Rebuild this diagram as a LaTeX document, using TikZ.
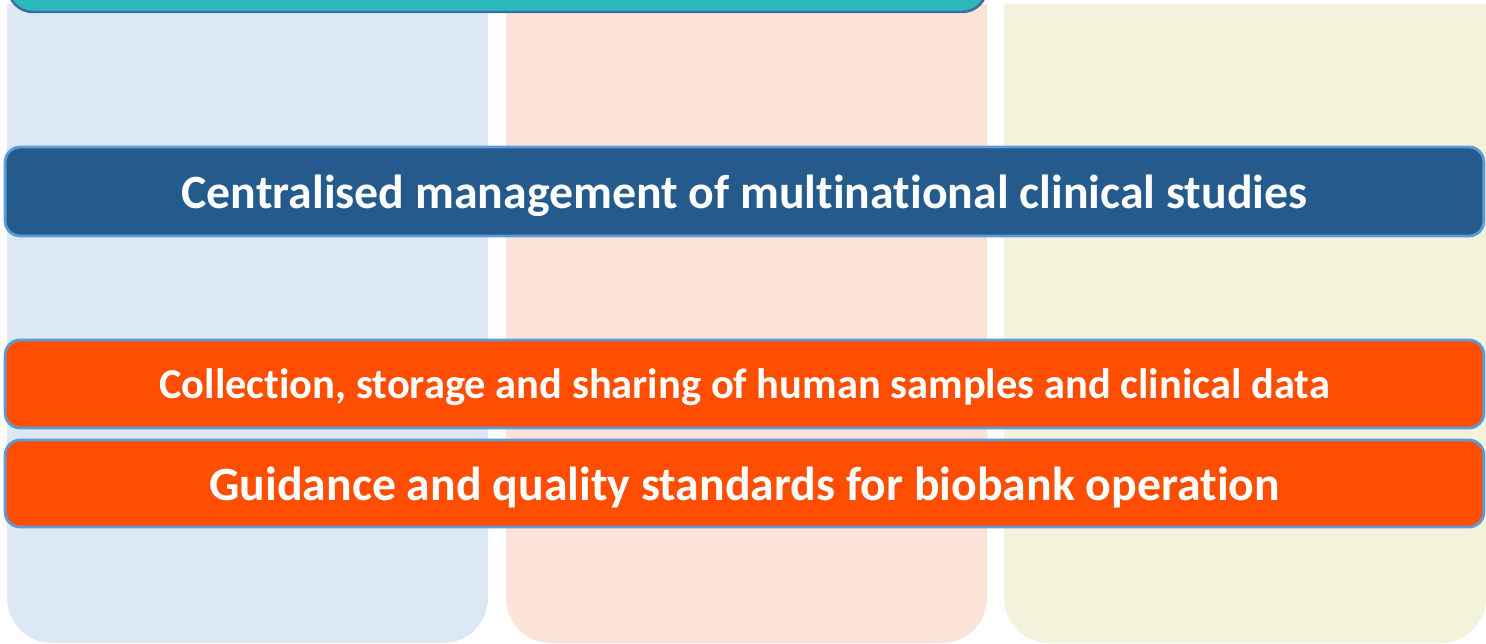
\documentclass[tikz,border=0pt]{standalone}
\usepackage{fontspec}
\setmainfont[Ligatures={NoCommon}]{Carlito}
\usepackage{xcolor}
\usetikzlibrary{positioning, calc}

\definecolor{colblue}{HTML}{DDE8F5}
\definecolor{colpeach}{HTML}{FBE4D7}
\definecolor{colyellow}{HTML}{F3F3DB}
\definecolor{teal}{HTML}{2AB8BA}
\definecolor{tealedge}{HTML}{3E6AA3}
\definecolor{barblue}{HTML}{245A8C}
\definecolor{baredge}{HTML}{5E9BD6}
\definecolor{barorange}{HTML}{FF4E02}

\begin{document}
\begin{tikzpicture}[
    x=0.02cm, y=-0.02cm,
    column/.style={rounded corners=0.9cm},
    bar/.style={draw=baredge, line width=1.6pt, rounded corners=0.3cm, minimum width=29.58cm, text=white, font=\bfseries, align=center, inner sep=0pt},
]
    \useasboundingbox (0,0) rectangle (1486,643);

    % three columns, sharp on top, round at the bottom
    \begin{scope}
        \clip (0,4) rectangle (1486,643);
        \fill[column, colblue] (7,-100) rectangle (488,643);
        \fill[column, colpeach] (506,-100) rectangle (987,643);
        \fill[column, colyellow] (1004,-100) rectangle (1486,643);
    \end{scope}

    % cut-off bar at the top
    \begin{scope}
        \clip (0,0) rectangle (1486,643);
        \draw[teal, fill=teal, draw=tealedge, line width=1.4pt, rounded corners=0.5cm] (8,-60) rectangle (987,12);
    \end{scope}

    \node[bar, fill=barblue, minimum height=1.78cm, text depth=0pt, font=\fontsize{27.2}{32}\selectfont\bfseries] (central) at (744.5,191.5) {Centralised management of multinational clinical studies};
    \node[bar, fill=barorange, minimum height=1.76cm, text depth=0pt, font=\fontsize{24.2}{29}\selectfont\bfseries] (collect) at (744.5,384) {Collection, storage and sharing of human samples and clinical data};
    \node[bar, fill=barorange, minimum height=1.74cm, text depth=0pt, font=\fontsize{27.2}{32}\selectfont\bfseries] (guide) at (744.5,483.5) {Guidance and quality standards for biobank operation};
\end{tikzpicture}
\end{document}
